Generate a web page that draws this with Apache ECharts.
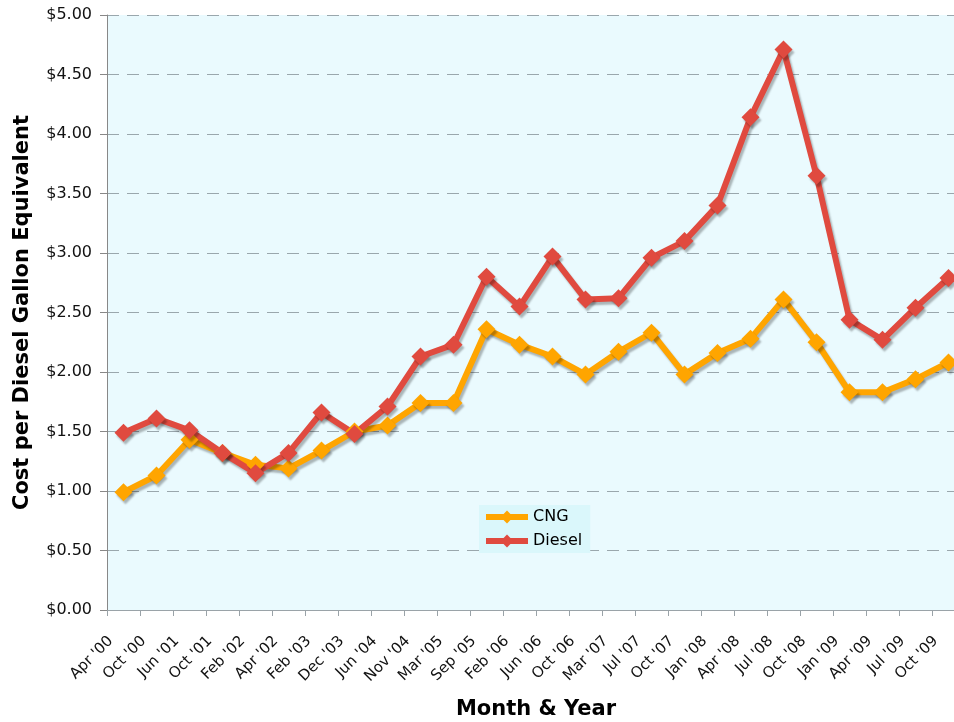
<!DOCTYPE html>
<html>
<head>
<meta charset="utf-8">
<script src="https://cdn.jsdelivr.net/npm/echarts@6/dist/echarts.min.js"></script>
<style>
html,body{margin:0;padding:0;background:#fff;}
#c{width:954px;height:722px;}
</style>
</head>
<body>
<div id="c"></div>
<script>
const categories = ["Apr '00","Oct '00","Jun '01","Oct '01","Feb '02","Apr '02","Feb '03","Dec '03","Jun '04","Nov '04","Mar '05","Sep '05","Feb '06","Jun '06","Oct '06","Mar '07","Jul '07","Oct '07","Jan '08","Apr '08","Jul '08","Oct '08","Jan '09","Apr '09","Jul '09","Oct '09"];
const cng    = [0.99,1.13,1.43,1.32,1.22,1.19,1.34,1.50,1.55,1.74,1.74,2.36,2.23,2.13,1.98,2.17,2.33,1.98,2.16,2.28,2.61,2.25,1.83,1.83,1.94,2.08];
const diesel = [1.49,1.61,1.51,1.32,1.15,1.32,1.66,1.48,1.71,2.13,2.23,2.80,2.55,2.97,2.61,2.62,2.96,3.10,3.40,4.14,4.71,3.65,2.44,2.27,2.54,2.79];

const chart = echarts.init(document.getElementById('c'));
const font = 'DejaVu Sans, Verdana, sans-serif';
function mkSeries(name, data, color){
  return {
    name, type:'line', data,
    symbol:'diamond', symbolSize:18,
    lineStyle:{width:6, color, shadowColor:'rgba(0,0,0,0.28)', shadowBlur:2, shadowOffsetX:2, shadowOffsetY:3},
    itemStyle:{color, shadowColor:'rgba(0,0,0,0.28)', shadowBlur:2, shadowOffsetX:2, shadowOffsetY:3},
    emphasis:{disabled:true},
    animation:false
  };
}
chart.setOption({
  animation:false,
  textStyle:{fontFamily:font},
  grid:{left:107, right:-11, top:15, bottom:112, containLabel:false, outerBoundsMode:'none',
        show:true, backgroundColor:'#EAFAFE', borderWidth:0},
  legend:{
    data:['CNG','Diesel'], orient:'vertical', left:479, top:505,
    backgroundColor:'#DAF7FB', padding:[4,8,4,4], itemGap:8,
    itemWidth:42, itemHeight:16,
    lineStyle:{width:6, shadowBlur:0, shadowOffsetX:0, shadowOffsetY:0, shadowColor:'rgba(0,0,0,0)'},
    itemStyle:{shadowBlur:0, shadowOffsetX:0, shadowOffsetY:0, shadowColor:'rgba(0,0,0,0)'},
    textStyle:{fontFamily:font, fontSize:16, color:'#000'}
  },
  xAxis:{
    type:'category', data:categories, boundaryGap:true,
    name:'Month & Year', nameLocation:'middle', nameGap:89,
    nameTextStyle:{fontFamily:font, fontSize:21, fontWeight:'bold', color:'#000'},
    axisLine:{lineStyle:{color:'#9aa3a8', width:1}},
    axisTick:{show:true, alignWithLabel:false, length:6, lineStyle:{color:'#9aa3a8'}},
    axisLabel:{rotate:45, fontSize:15, color:'#111', fontFamily:font, interval:0, margin:16, padding:[0,18,0,0]},
    splitLine:{show:false}
  },
  yAxis:{
    type:'value', min:0, max:5, interval:0.5,
    name:'Cost per Diesel Gallon Equivalent', nameLocation:'middle', nameGap:74,
    nameTextStyle:{fontFamily:font, fontSize:21, fontWeight:'bold', color:'#000'},
    axisLine:{show:true, lineStyle:{color:'#888', width:1}},
    axisTick:{show:true, length:7, lineStyle:{color:'#888'}},
    axisLabel:{fontSize:16, color:'#111', fontFamily:font, margin:15, formatter:v=>'$'+v.toFixed(2)},
    splitLine:{show:true, lineStyle:{color:'#9aa7ad', type:[12,8], width:1.2}}
  },
  series:[mkSeries('CNG', cng, '#FFA500'), mkSeries('Diesel', diesel, '#E04A3F')]
});
</script>
</body>
</html>
